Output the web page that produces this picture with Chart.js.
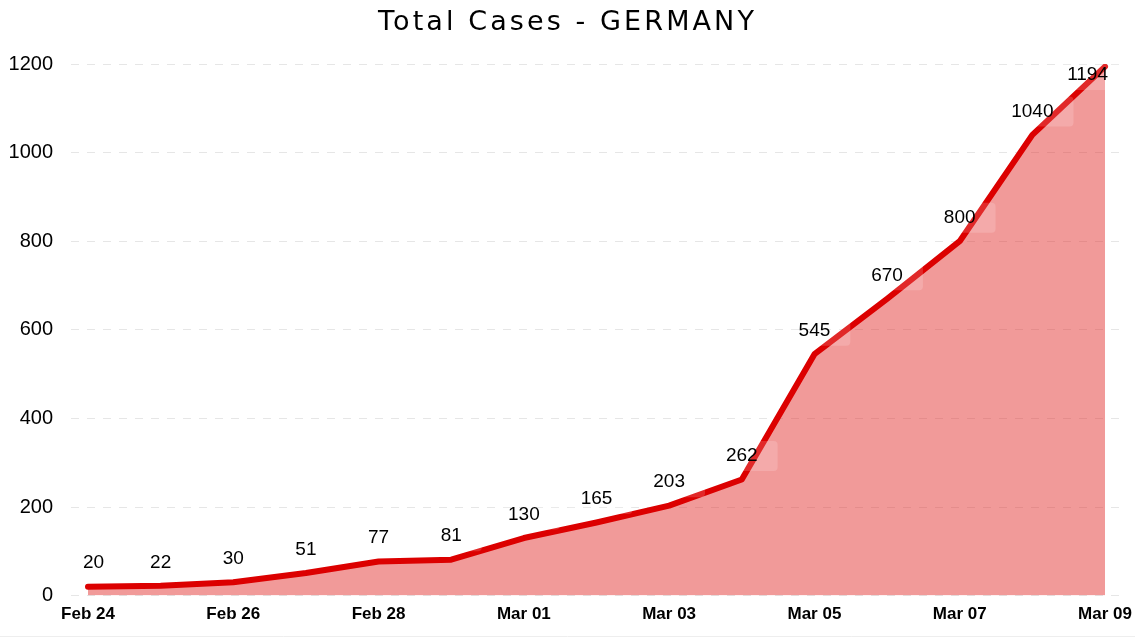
<!DOCTYPE html>
<html>
<head>
<meta charset="utf-8">
<script src="https://cdn.jsdelivr.net/npm/chart.js@4.4.1/dist/chart.umd.min.js"></script>
<style>
  html, body { margin: 0; padding: 0; background: #fff; }
  #wrap { width: 1135px; height: 639px; position: relative; }
</style>
</head>
<body>
<div id="wrap"><canvas id="c"></canvas></div>
<script>
const dates = ["Feb 24","Feb 25","Feb 26","Feb 27","Feb 28","Feb 29","Mar 01","Mar 02","Mar 03","Mar 04","Mar 05","Mar 06","Mar 07","Mar 08","Mar 09"];
const totalCases = [20, 22, 30, 51, 77, 81, 130, 165, 203, 262, 545, 670, 800, 1040, 1194];
const yTicks = [0, 200, 400, 600, 800, 1000, 1200];
const titleText = "Total Cases - GERMANY";

const points = totalCases.map((v, i) => ({ x: i, y: v }));

const valueLabels = {
  id: 'valueLabels',
  afterDatasetsDraw(chart) {
    const ctx = chart.ctx;
    const meta = chart.getDatasetMeta(0);
    const area = chart.chartArea;
    ctx.save();
    ctx.font = '19px "Liberation Sans", Arial, sans-serif';
    ctx.textBaseline = 'middle';
    ctx.textAlign = 'left';
    meta.data.forEach((el, i) => {
      const txt = String(totalCases[i]);
      const w = ctx.measureText(txt).width;
      const bw = w + 32, bh = 30;
      let left = el.x + 4 - bw / 2;
      if (left < area.left) left = area.left;
      if (left + bw > chart.width - 7) left = chart.width - 7 - bw;
      let cy = el.y - 23.5;
      if (cy - bh / 2 < area.top - 4) cy = area.top - 4 + bh / 2;
      ctx.fillStyle = 'rgba(255,255,255,0.16)';
      ctx.beginPath();
      if (ctx.roundRect) ctx.roundRect(left, cy - bh / 2, bw, bh, 4); else ctx.rect(left, cy - bh / 2, bw, bh);
      ctx.fill();
      ctx.fillStyle = '#000';
      ctx.fillText(txt, left + 12, cy);
    });
    ctx.restore();
  }
};

const titleAndFrame = {
  id: 'titleAndFrame',
  afterDraw(chart) {
    const ctx = chart.ctx;
    ctx.save();
    ctx.font = '27px "DejaVu Sans", Verdana, sans-serif';
    ctx.fillStyle = '#000';
    ctx.textAlign = 'center';
    ctx.textBaseline = 'alphabetic';
    if ('letterSpacing' in ctx) ctx.letterSpacing = '3.1px';
    ctx.fillText(titleText, chart.width / 2, 30);
    if ('letterSpacing' in ctx) ctx.letterSpacing = '0px';
    ctx.strokeStyle = '#eeeeee';
    ctx.lineWidth = 1;
    ctx.beginPath();
    ctx.moveTo(0, chart.height - 2.5);
    ctx.lineTo(chart.width, chart.height - 2.5);
    ctx.stroke();
    ctx.restore();
  }
};

new Chart(document.getElementById('c'), {
  type: 'line',
  data: {
    datasets: [{
      data: points,
      borderColor: '#dc0000',
      backgroundColor: 'rgba(225, 40, 38, 0.47)',
      borderWidth: 6,
      fill: 'origin',
      pointRadius: 0,
      tension: 0,
      borderCapStyle: 'round',
      borderJoinStyle: 'round'
    }]
  },
  options: {
    responsive: true,
    maintainAspectRatio: false,
    animation: false,
    layout: { padding: { left: 8, right: 13, top: 64, bottom: 5 } },
    plugins: {
      legend: { display: false },
      tooltip: { enabled: false },
      title: { display: false }
    },
    scales: {
      x: {
        type: 'linear',
        min: -0.234,
        max: 14.234,
        afterBuildTicks(scale) {
          scale.ticks = [0, 2, 4, 6, 8, 10, 12, 14].map(v => ({ value: v }));
        },
        afterFit(scale) {
          scale.paddingLeft = 0;
          scale.paddingRight = 0;
        },
        grid: { display: false, drawTicks: false },
        border: { display: false },
        ticks: {
          color: '#000',
          padding: 9,
          maxRotation: 0,
          autoSkip: false,
          font: { family: '"Liberation Sans", Arial, sans-serif', size: 17, weight: 'bold' },
          callback: (v) => dates[v] ?? ''
        }
      },
      y: {
        min: 0,
        max: 1200,
        afterBuildTicks(scale) {
          scale.ticks = yTicks.map(v => ({ value: v }));
        },
        afterFit(scale) {
          scale.paddingTop = 0;
          scale.paddingBottom = 0;
          scale.width = 63;
        },
        grid: { color: '#e6e6e6', drawTicks: false, lineWidth: 1 },
        border: { display: false, dash: [8, 8] },
        ticks: {
          color: '#000',
          padding: 18,
          font: { family: '"Liberation Sans", Arial, sans-serif', size: 20 },
          callback: (v) => String(v)
        }
      }
    }
  },
  plugins: [valueLabels, titleAndFrame]
});
</script>
</body>
</html>
